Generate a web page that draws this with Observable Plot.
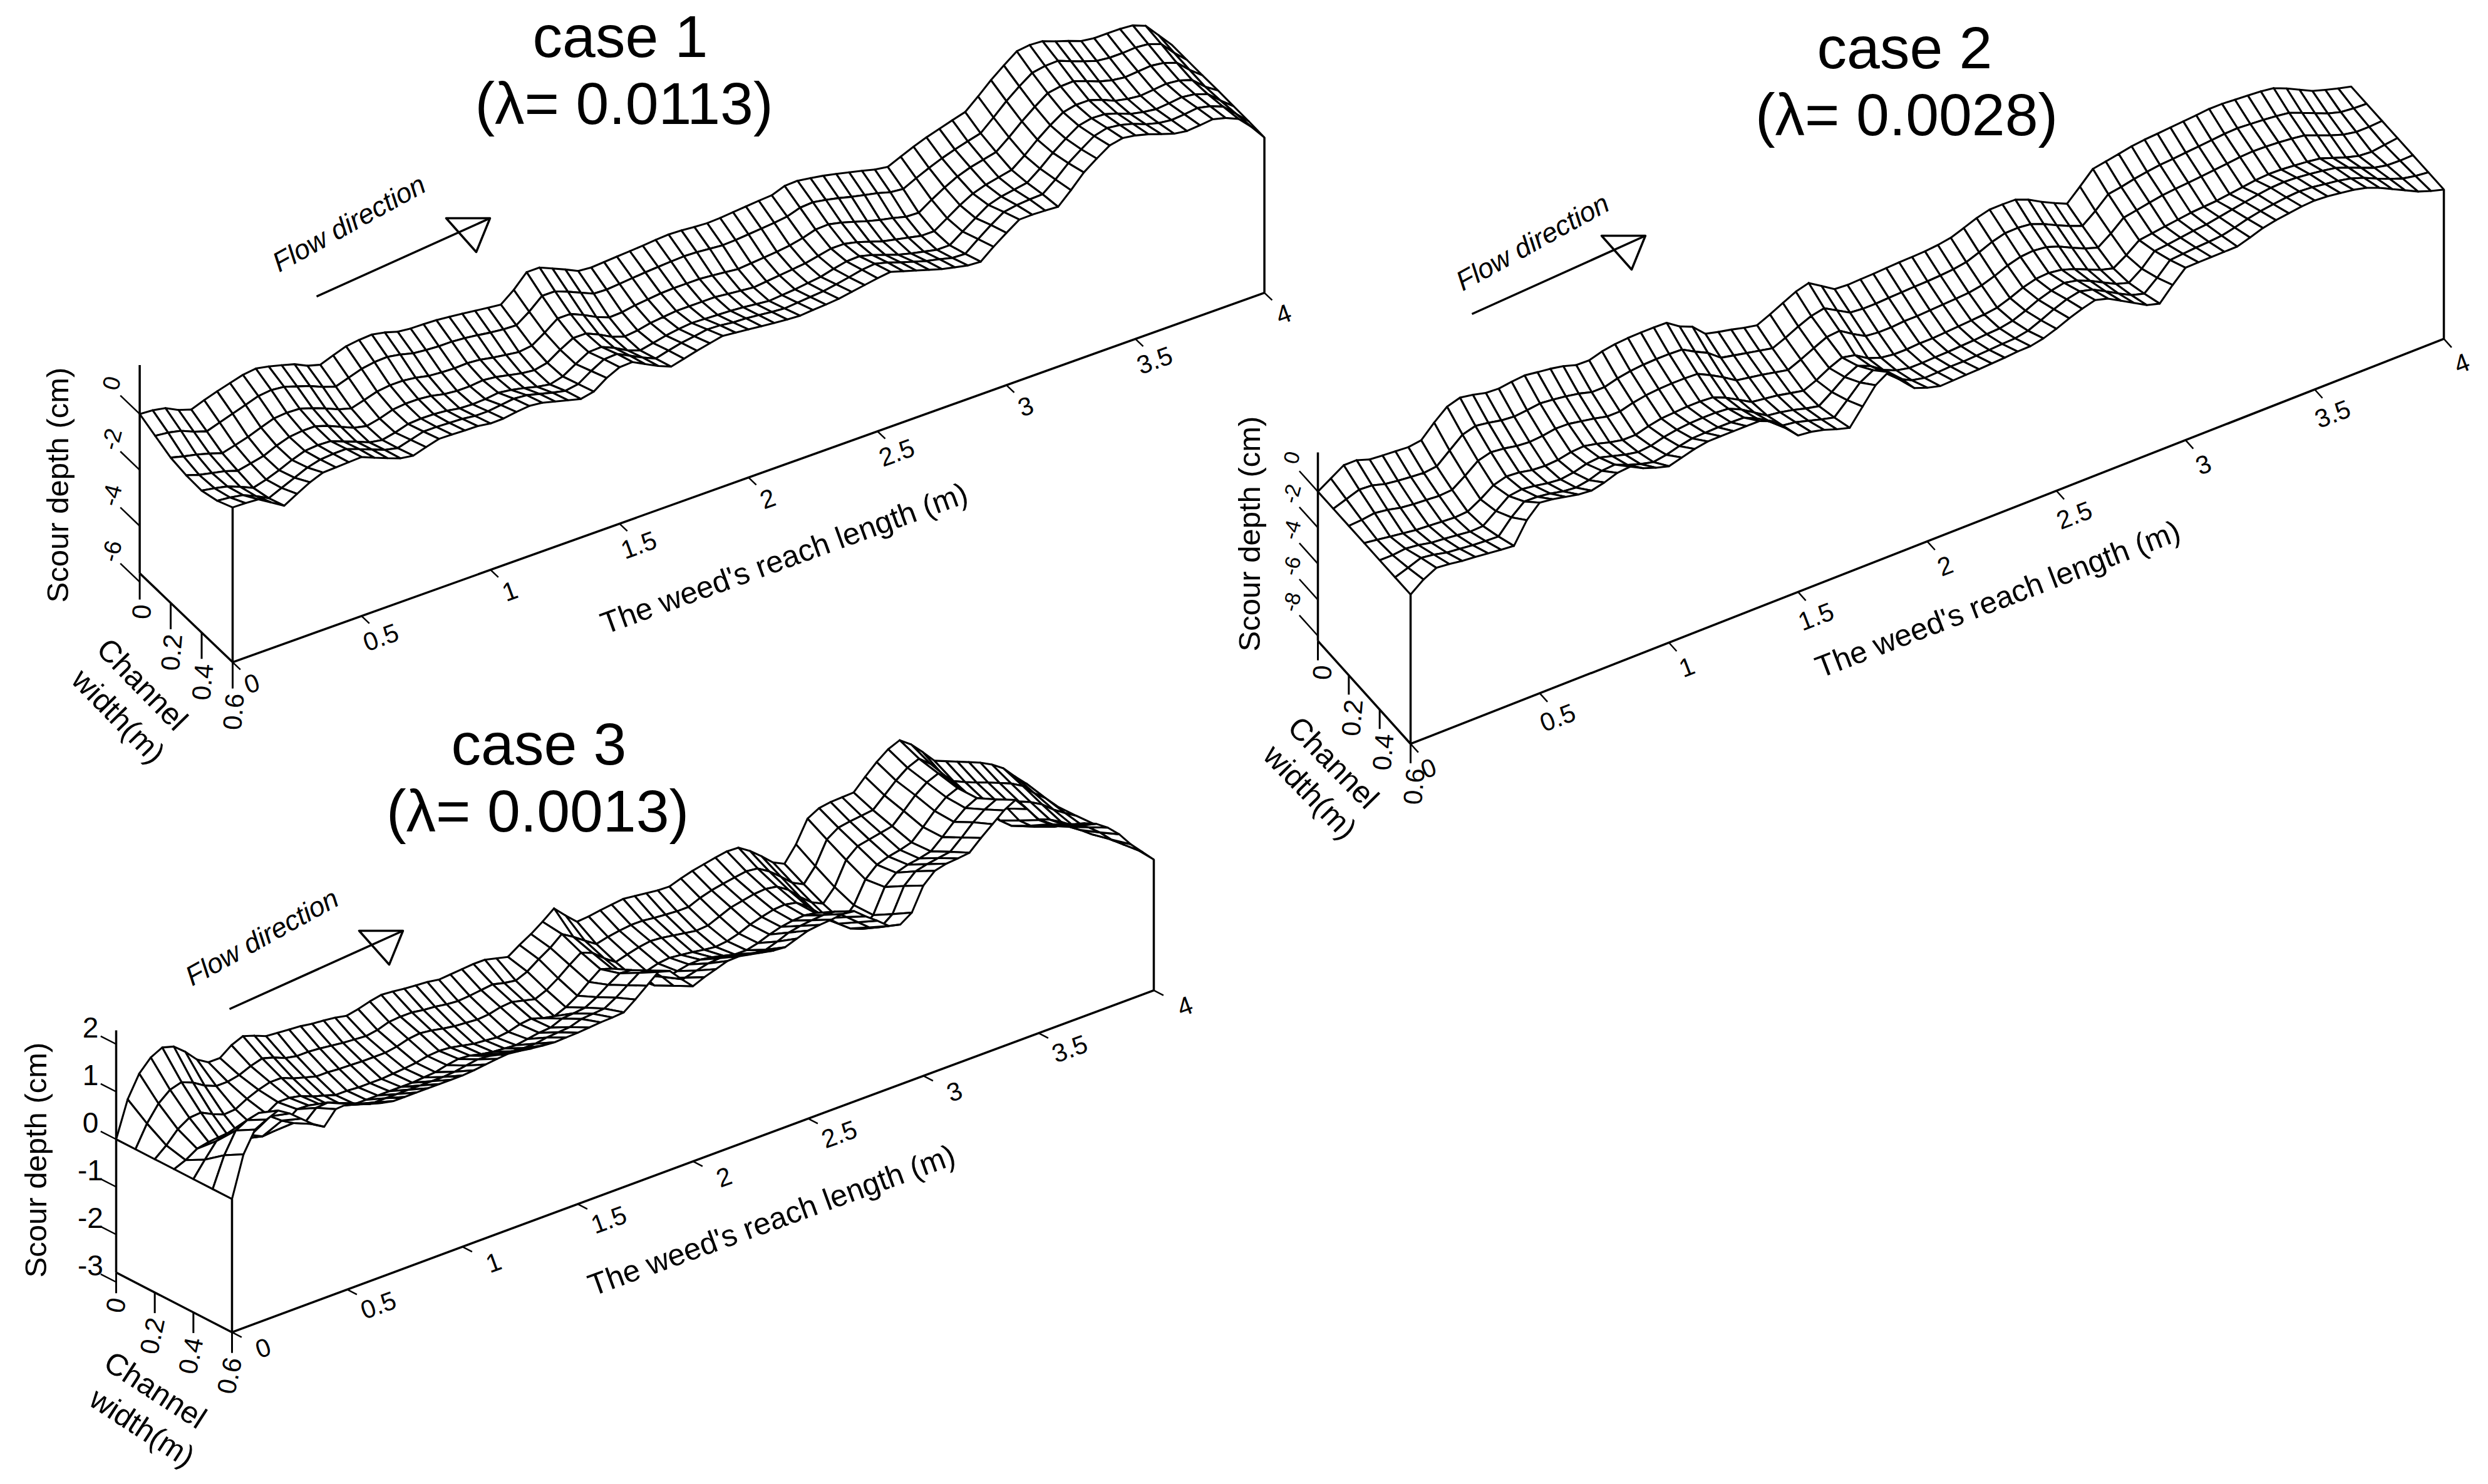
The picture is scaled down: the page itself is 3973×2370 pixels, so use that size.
<!DOCTYPE html>
<html><head><meta charset="utf-8">
<style>html,body{margin:0;padding:0;background:#fff}svg{display:block}</style>
<script src="https://cdn.jsdelivr.net/npm/d3@7"></script>
<script src="https://cdn.jsdelivr.net/npm/@observablehq/plot@0.6"></script>
</head><body><div id="chart"></div>
<script>
// Scour depth estimates, hundredths of a cm, columns every 0.05 m along the reach, one array per width station.
const c1_w00=[0,-3,-12,-35,-50,-33,-18,-5,8,14,5,-7,-20,-42,-55,-38,-22,-16,-13,-22,-36,-41,-42,-44,-49,-54,-60,-66,-71,-35,12,12,-8,-28,-50,-54,-51,-48,-45,-42,-38,-35,-37,-41,-44,-42,-38,-34,-30,-27,-10,-8,-15,-23,-33,-44,-55,-67,-74,-54,-35,-18,-4,10,23,62,104,140,174,180,177,160,145,128,122,122,122,118,100,50,0];
const c1_w01=[-25,-30,-40,-60,-75,-60,-45,-30,-15,-10,-15,-30,-45,-65,-80,-65,-50,-42,-40,-48,-60,-65,-68,-68,-72,-78,-85,-90,-92,-60,-20,-20,-38,-58,-78,-80,-76,-72,-68,-65,-62,-60,-62,-66,-70,-68,-64,-60,-56,-50,-35,-32,-40,-50,-62,-72,-82,-95,-100,-78,-58,-40,-25,-12,0,40,82,118,150,158,160,142,125,110,105,105,108,104,88,40,-2];
const c1_w02=[-50,-62,-72,-85,-100,-88,-75,-58,-42,-38,-40,-55,-72,-92,-105,-92,-78,-72,-72,-78,-88,-92,-94,-92,-96,-105,-112,-118,-112,-82,-48,-48,-68,-92,-110,-108,-100,-95,-90,-88,-88,-88,-92,-97,-102,-98,-94,-90,-84,-74,-60,-58,-68,-82,-96,-108,-118,-130,-132,-102,-75,-52,-36,-25,-14,22,62,98,130,138,140,124,106,94,88,92,96,90,74,32,-4];
const c1_w03=[-60,-75,-85,-95,-110,-100,-90,-70,-55,-50,-50,-65,-85,-105,-115,-105,-90,-85,-85,-90,-100,-105,-105,-100,-105,-115,-125,-130,-120,-90,-65,-65,-85,-110,-125,-120,-110,-105,-100,-100,-100,-100,-105,-110,-115,-110,-105,-100,-95,-85,-75,-75,-85,-100,-115,-125,-135,-145,-145,-115,-85,-60,-45,-35,-25,10,50,85,115,125,125,110,90,80,75,80,85,80,65,25,-5];
const c1_w04=[-62,-70,-80,-98,-118,-105,-88,-68,-52,-48,-50,-68,-85,-104,-112,-102,-88,-85,-86,-90,-98,-100,-98,-92,-98,-108,-120,-128,-116,-88,-62,-60,-80,-105,-122,-112,-102,-95,-90,-92,-94,-96,-100,-105,-110,-106,-102,-96,-90,-78,-68,-66,-78,-94,-110,-122,-132,-142,-142,-110,-78,-48,-34,-26,-18,16,56,90,120,130,128,114,96,86,80,84,90,84,68,28,-8];
const c1_w05=[-45,-50,-58,-78,-102,-82,-62,-42,-30,-26,-25,-42,-60,-78,-88,-75,-62,-62,-64,-66,-72,-72,-66,-60,-64,-76,-88,-98,-90,-60,-35,-32,-55,-78,-98,-86,-75,-68,-60,-62,-68,-70,-75,-80,-84,-80,-76,-72,-64,-55,-45,-40,-52,-68,-82,-96,-106,-118,-120,-84,-50,-20,-12,-8,-6,30,72,105,136,148,142,130,112,100,94,98,104,94,76,34,-10];
const c1_w06=[-16,-17,-20,-48,-76,-50,-25,-7,-5,-3,-1,-20,-38,-55,-62,-48,-35,-36,-38,-39,-46,-45,-38,-33,-38,-50,-62,-74,-64,-32,-10,-8,-32,-55,-74,-62,-50,-40,-30,-35,-40,-45,-50,-54,-57,-53,-50,-46,-38,-30,-22,-16,-30,-44,-58,-72,-82,-92,-95,-58,-25,6,7,5,2,45,92,125,155,165,158,146,130,115,108,112,117,105,85,40,-14];

const c2_w00=[0,45,90,90,66,60,55,50,60,130,190,212,200,182,178,188,195,185,176,162,140,138,160,172,178,180,180,178,130,100,33,15,0,-18,-32,0,35,70,90,45,0,-5,-2,0,4,8,10,13,20,32,58,85,104,105,103,75,35,0,-32,35,105,118,132,146,155,160,166,172,178,185,185,180,175,170,160,130,95,60,38,18,0];
const c2_w01=[0,25,50,45,25,15,8,2,10,70,130,150,140,125,118,125,135,128,118,105,85,85,105,118,125,128,128,125,85,50,-5,-20,-35,-50,-65,-35,0,30,45,5,-35,-42,-42,-38,-35,-32,-30,-26,-20,-8,18,48,68,70,62,35,0,-32,-60,-5,60,72,88,100,110,115,122,128,135,142,145,140,135,128,118,90,60,30,10,3,0];
const c2_w02=[0,5,15,5,-12,-20,-25,-30,-25,25,80,100,92,78,72,78,90,88,75,62,45,45,65,78,85,88,88,85,50,10,-35,-48,-60,-75,-90,-60,-25,8,15,-30,-70,-78,-78,-72,-72,-68,-64,-60,-55,-42,-18,12,32,38,30,5,-30,-62,-85,-35,25,38,52,65,72,78,85,92,100,108,112,110,105,98,88,60,32,8,-5,-5,0];
const c2_w03=[0,-10,-20,-30,-40,-45,-50,-55,-50,-10,40,60,55,40,35,40,55,60,45,25,10,10,30,45,50,55,55,50,20,-20,-60,-70,-80,-95,-110,-80,-40,-10,-25,-70,-95,-105,-105,-100,-100,-95,-90,-85,-80,-70,-45,-15,5,10,0,-25,-55,-85,-105,-60,-5,5,15,25,35,40,45,55,65,75,80,78,72,65,55,30,5,-15,-20,-10,0];
const c2_w04=[0,0,8,0,-15,-22,-30,-38,-35,20,75,85,75,62,55,65,85,92,72,52,38,45,65,78,85,88,88,82,50,5,-40,-50,-65,-85,-100,-50,5,40,10,-40,-70,-85,-85,-82,-80,-76,-72,-66,-62,-48,-20,12,35,50,35,5,-32,-68,-90,-40,30,38,48,58,65,78,92,105,118,128,132,128,120,110,98,72,42,15,0,-2,0];
const c2_w05=[0,25,52,42,25,18,10,5,2,80,140,138,128,112,105,118,142,148,118,95,78,90,110,125,128,130,130,128,95,50,0,-10,-30,-50,-68,0,70,110,65,5,-30,-45,-42,-38,-38,-34,-30,-25,-22,-8,22,55,82,98,80,42,2,-35,-55,5,75,82,88,92,98,115,135,150,160,170,175,170,160,150,135,110,78,48,22,8,0];
const c2_w06=[0,55,92,85,74,68,60,52,45,160,229,220,205,190,183,200,225,232,195,170,150,170,190,203,204,204,204,204,175,110,40,32,15,-10,-30,60,150,195,130,50,24,5,8,11,14,18,22,28,30,45,70,100,125,145,125,85,45,5,-15,60,128,130,131,132,133,155,180,195,205,215,220,215,205,195,178,150,115,80,45,20,0];

const c3_w00=[0,75,120,145,157,150,130,105,90,90,108,118,110,100,98,96,94,90,88,85,80,85,92,97,95,92,90,88,84,86,88,90,90,84,78,94,108,125,144,120,98,100,104,107,110,107,104,101,100,108,115,120,125,129,128,112,92,70,58,90,135,148,152,153,154,178,200,218,228,210,185,158,148,138,128,118,105,88,62,38,0];
const c3_w01=[0,45,78,98,105,95,80,70,70,75,85,92,85,75,70,70,68,65,62,60,58,62,70,72,72,68,66,62,60,62,65,68,62,58,68,85,100,120,105,88,72,78,82,85,85,82,80,78,78,88,95,100,104,108,105,90,70,48,36,65,112,128,132,135,138,160,182,200,210,190,160,136,125,115,106,96,86,72,48,28,2];
const c3_w02=[0,20,45,60,62,50,40,42,55,65,72,72,62,55,48,48,46,45,44,44,44,48,55,58,55,50,46,44,42,44,50,52,46,40,50,66,85,102,92,72,55,62,68,72,70,66,62,58,60,70,80,85,90,92,88,72,48,28,16,42,90,110,115,120,125,148,172,190,200,178,145,120,108,98,88,78,68,54,34,18,3];
const c3_w03=[0,10,25,30,25,15,10,25,45,60,60,55,45,38,30,30,28,28,28,30,32,35,40,42,40,35,30,28,25,28,35,38,30,25,35,50,70,88,80,60,42,48,55,58,55,52,48,45,48,55,65,72,78,80,75,58,30,10,0,25,70,92,100,105,112,135,160,180,190,165,130,105,92,82,72,62,52,38,22,10,5];
const c3_w04=[0,32,62,70,66,48,36,38,48,66,65,58,45,38,32,32,32,32,32,32,34,36,42,46,44,38,34,32,30,34,38,40,50,52,55,68,85,100,98,78,48,55,60,65,66,62,56,50,50,56,65,72,76,78,74,55,34,15,5,25,75,96,104,108,114,135,158,178,190,160,125,105,95,85,78,68,58,42,24,10,2];
const c3_w05=[0,62,105,118,124,108,90,76,68,90,92,82,70,62,56,56,56,56,56,56,56,58,62,66,64,60,56,54,54,58,60,62,70,72,74,88,105,122,118,96,68,76,82,88,90,85,80,74,72,80,90,95,98,100,98,78,58,38,30,48,98,120,126,130,134,155,178,196,208,180,146,126,116,106,100,90,78,58,34,15,-2];
const c3_w06=[0,85,128,140,150,135,115,95,80,108,110,102,92,85,80,80,80,80,80,80,80,82,85,88,90,87,83,80,78,79,80,82,84,85,87,105,125,145,138,112,88,98,106,114,115,110,105,100,98,107,115,118,120,123,120,100,82,62,56,72,120,142,148,150,153,175,195,215,228,200,168,150,140,132,125,115,98,75,45,20,-5];

const lengthTicks=[0,0.5,1,1.5,2,2.5,3,3.5,4];
const widthTicks=[0,0.2,0.4,0.6];
const depthTicks1=[0,-2,-4,-6];
const depthTicks2=[0,-2,-4,-6,-8];
const depthTicks3=[2,1,0,-1,-2,-3];
const titles=["case 1","case 2","case 3"];
const lambdas=["(λ= 0.0113)","(λ= 0.0028)","(λ= 0.0013)"];

// Oblique axonometric view of each panel (layout only, no data).
const panels=[
 {rows:[c1_w00,c1_w01,c1_w02,c1_w03,c1_w04,c1_w05,c1_w06],depth:depthTicks1,ox:222.6,oy:660.7,lx:411.9,ly:-147.5,wx:247.3,wy:236.7,zs:44.7,zTop:1.75,zBase:-5.69,zTickW:.125,wTick:42,
  lDx:31,lDy:35,rot:-20,zDx:-44,zDy:-49,zRot:-75,zFont:38,wDx:5,wRot:-85,
  title:[990,90,996,197],chan:[226,1093,188,1144,45.6],len:[1252,892],scour:[93,774],flow:[0,0,0,0]},
 {rows:[c2_w00,c2_w01,c2_w02,c2_w03,c2_w04,c2_w05,c2_w06],depth:depthTicks2,ox:2104,oy:784.6,lx:412.5,ly:-161.7,wx:246.7,wy:274,zs:28.8,zTop:2.17,zBase:-8.28,zTickW:.12,wTick:31,
  lDx:29,lDy:40,rot:-21,zDx:-41,zDy:-54,zRot:-75,zFont:34,wDx:9,wRot:-85,
  title:[3041,108,3044,215],chan:[2128,1218,2091,1265,45.6],len:[3190,957],scour:[1996,852],flow:[1845,28,1890,30]},
 {rows:[c3_w00,c3_w01,c3_w02,c3_w03,c3_w04,c3_w05,c3_w06],depth:depthTicks3,ox:185,oy:1819,lx:368,ly:-136.5,wx:308.3,wy:159,zs:76,zTop:2.29,zBase:-2.8,zTickW:.08,wTick:33,
  lDx:50,lDy:26,rot:-20,zDx:-41,zDy:-25,zRot:0,zFont:46,wDx:3,wRot:-78,
  title:[860,1220,858,1327],chan:[247,2220,226,2280,33],len:[1232,1949],scour:[58,1852],flow:[-139,1138,-139,1140]}
];
panels.forEach(p=>{p.sx=(l,w)=>p.ox+p.lx*l+p.wx*w;p.sy=(l,w,z)=>p.oy+p.ly*l+p.wy*w-p.zs*z;});

const font="Liberation Sans";
const marks=[];
panels.forEach((p,pi)=>{
  const X=d=>p.sx(d.l,d.w),Y=d=>p.sy(d.l,d.w,d.z);
  const zAt=(i,j)=>p.rows[j][i]/100;
  // surface cells painted back to front
  const pts=[];
  for(let i=79;i>=0;i--)for(let j=0;j<6;j++){
    const id=`${pi}-${i}-${j}`;
    [[i,j],[i+1,j],[i+1,j+1],[i,j+1],[i,j]].forEach(([a,b])=>pts.push({id,l:a*.05,w:b*.1,z:zAt(a,b)}));
  }
  // frame
  const seg=(l1,w1,z1,l2,w2,z2)=>({x1:p.sx(l1,w1),y1:p.sy(l1,w1,z1),x2:p.sx(l2,w2),y2:p.sy(l2,w2,z2)});
  const frame=[
    seg(0,0,p.zTop,0,0,p.zBase),
    seg(0,0,p.zBase,0,.6,p.zBase),
    seg(0,.6,p.zBase,4,.6,p.zBase),
    seg(0,.6,zAt(0,6),0,.6,p.zBase),
    seg(4,.6,zAt(80,6),4,.6,p.zBase)
  ];
  marks.push(Plot.link(frame,{x1:"x1",y1:"y1",x2:"x2",y2:"y2",stroke:"black",strokeWidth:3.5}));
  marks.push(Plot.line(pts,{x:X,y:Y,z:"id",fill:"white",stroke:"black",strokeWidth:3.1,strokeLinejoin:"round"}));
  // length axis
  marks.push(Plot.link(lengthTicks,{x1:l=>p.sx(l,.6),y1:l=>p.sy(l,.6,p.zBase),x2:l=>p.sx(l,.65),y2:l=>p.sy(l,.65,p.zBase),stroke:"black",strokeWidth:2.5}));
  marks.push(Plot.text(lengthTicks,{x:l=>p.sx(l,.6),y:l=>p.sy(l,.6,p.zBase),text:l=>String(l),dx:p.lDx,dy:p.lDy,rotate:p.rot,fontSize:41,fontFamily:font,fill:"black",textAnchor:"middle",lineAnchor:"middle"}));
  // width axis
  marks.push(Plot.link(widthTicks,{x1:w=>p.sx(0,w),y1:w=>p.sy(0,w,p.zBase),x2:w=>p.sx(0,w),y2:w=>p.sy(0,w,p.zBase)+p.wTick,stroke:"black",strokeWidth:3}));
  marks.push(Plot.text(widthTicks,{x:w=>p.sx(0,w)+p.wDx,y:w=>p.sy(0,w,p.zBase)+p.wTick+8,text:w=>String(w),rotate:p.wRot,fontSize:42,fontFamily:font,fill:"black",textAnchor:"end",lineAnchor:"middle"}));
  // depth axis
  marks.push(Plot.link(p.depth,{x1:z=>p.sx(0,0),y1:z=>p.sy(0,0,z),x2:z=>p.sx(0,-p.zTickW),y2:z=>p.sy(0,-p.zTickW,z),stroke:"black",strokeWidth:2.5}));
  marks.push(Plot.text(p.depth,{x:z=>p.sx(0,0),y:z=>p.sy(0,0,z),text:z=>String(z),dx:p.zDx,dy:p.zDy,rotate:p.zRot,fontSize:p.zFont,fontFamily:font,fill:"black",textAnchor:"middle",lineAnchor:"middle"}));
  // axis titles
  const label=(t,x,y,rotate,fontSize=49)=>marks.push(Plot.text([t],{x:()=>x,y:()=>y,text:d=>d,rotate,fontSize,fontFamily:font,fill:"black",textAnchor:"middle",lineAnchor:"middle"}));
  label("The weed's reach length (m)",p.len[0],p.len[1],p.rot);
  label("Scour depth (cm)",p.scour[0],p.scour[1],-90);
  label("Channel",p.chan[0],p.chan[1],p.chan[4]);
  label("width(m)",p.chan[2],p.chan[3],p.chan[4]);
  // case titles
  const t=p.title;
  marks.push(Plot.text([titles[pi]],{x:()=>t[0],y:()=>t[1],text:d=>d,fontSize:95,fontFamily:font,fill:"black",textAnchor:"middle",lineAnchor:"bottom"}));
  marks.push(Plot.text([lambdas[pi]],{x:()=>t[2],y:()=>t[3],text:d=>d,fontSize:95,fontFamily:font,fill:"black",textAnchor:"middle",lineAnchor:"bottom"}));
  // flow arrow, placed relative to the first panel's arrow
  const [ax,ay,tx,ty]=p.flow;
  marks.push(Plot.link([0],{x1:()=>505+ax,y1:()=>473+ay,x2:()=>782+ax,y2:()=>348+ay,stroke:"black",strokeWidth:3.5}));
  marks.push(Plot.line([[712,348],[782,348],[760,402],[712,348]],{x:d=>d[0]+ax,y:d=>d[1]+ay,stroke:"black",strokeWidth:3.5,fill:"none"}));
  marks.push(Plot.text(["Flow direction"],{x:()=>557+tx,y:()=>357+ty,text:d=>d,rotate:-29,fontSize:44,fontStyle:"italic",fontFamily:font,fill:"black",textAnchor:"middle",lineAnchor:"middle"}));
});

const chart=Plot.plot({width:3973,height:2370,margin:0,
  x:{domain:[0,3973],range:[0,3973],axis:null},
  y:{domain:[0,2370],range:[0,2370],axis:null},
  style:{background:"white"},marks});
document.getElementById("chart").append(chart);
</script></body></html>
